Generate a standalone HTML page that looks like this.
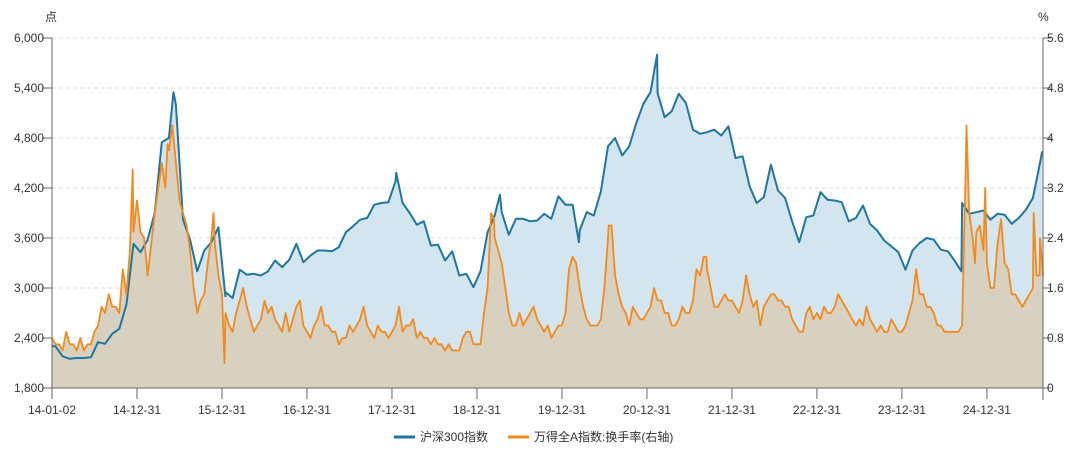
<!DOCTYPE html>
<html><head><meta charset="utf-8"><style>
body{margin:0;background:#fff;font-family:"Liberation Sans","Noto Sans CJK SC",sans-serif;}
svg text{font-family:"Liberation Sans","Noto Sans CJK SC",sans-serif;fill:#333;font-size:12px;}
</style></head><body>
<svg id="chart" width="1080" height="458" viewBox="0 0 1080 458" xmlns="http://www.w3.org/2000/svg"></svg>
<script>
const leftTicks=[1800,2400,3000,3600,4200,4800,5400,6000];
const leftTickLabels=["1,800","2,400","3,000","3,600","4,200","4,800","5,400","6,000"];
const rightTicks=[0,0.8,1.6,2.4,3.2,4,4.8,5.6];
const rightTickLabels=["0","0.8","1.6","2.4","3.2","4","4.8","5.6"];
const xTickDates=[2014.0,2015.0,2016.0,2017.0,2018.0,2019.0,2020.0,2021.0,2022.0,2023.0,2024.0,2025.0];
const xTickLabels=["14-01-02","14-12-31","15-12-31","16-12-31","17-12-31","18-12-31","19-12-31","20-12-31","21-12-31","22-12-31","23-12-31","24-12-31"];
// monthly values Jan 2014 .. Aug 2025 (mid-month)
const csi300=[2300,2180,2150,2160,2160,2170,2350,2330,2450,2510,2800,3530,
3430,3580,3900,4750,4800,5200,3820,3580,3200,3450,3550,3730,
2950,2880,3220,3160,3170,3150,3200,3330,3250,3340,3530,3310,
3390,3450,3450,3440,3490,3670,3740,3820,3840,4000,4020,4030,
4280,4020,3900,3760,3800,3510,3520,3330,3440,3150,3170,3010,
3200,3670,3870,3910,3640,3830,3830,3800,3810,3890,3830,4100,
4000,4000,3690,3910,3870,4160,4700,4800,4590,4700,4980,5210,
5350,5340,5050,5120,5330,5220,4900,4850,4870,4900,4830,4940,
4560,4580,4220,4020,4090,4480,4170,4080,3800,3550,3850,3870,
4150,4060,4050,4030,3800,3840,3990,3770,3690,3570,3500,3430,
3220,3450,3540,3600,3580,3460,3440,3320,4020,3890,3910,3930,
3820,3890,3880,3770,3840,3940,4080,4500];
const csiSpikeDates=[2015.43,2016.04,2018.05,2019.27,2020.2,2021.12,2024.7,2025.65];
const csiSpikeValues=[5350,2900,4380,4120,3550,5800,3200,4640];
const turnover=[0.7,0.6,0.7,0.6,0.6,0.7,1.0,1.2,1.3,1.2,1.5,2.5,
2.5,1.8,2.8,3.6,3.8,3.6,2.8,2.2,1.2,1.5,2.4,1.8,
1.2,0.9,1.4,1.3,0.9,1.1,1.2,1.1,0.9,0.9,1.3,1.0,
0.8,1.1,1.0,0.9,0.7,0.8,0.9,1.1,1.0,0.8,0.9,0.8,
1.0,0.9,1.0,0.8,0.8,0.7,0.7,0.6,0.6,0.6,0.9,0.7,
0.7,1.6,2.4,2.0,1.2,1.0,1.0,1.2,1.1,0.9,0.8,1.0,
1.2,2.1,1.6,1.1,1.0,1.1,2.4,1.8,1.3,1.0,1.2,1.1,
1.3,1.4,1.2,1.0,1.1,1.2,1.4,1.8,1.9,1.3,1.4,1.4,
1.3,1.4,1.5,1.4,1.3,1.5,1.4,1.3,1.1,0.9,1.2,1.1,
1.1,1.2,1.3,1.4,1.2,1.0,1.0,1.1,0.9,0.9,1.1,0.9,
1.0,1.4,1.5,1.3,1.2,1.0,0.9,0.9,1.0,2.8,2.5,2.2,
1.6,2.3,2.0,1.5,1.4,1.4,1.6,2.4];
// start-of-month values
const turnoverStart=[0.8,0.7,0.9,0.7,0.8,0.7,0.9,1.3,1.5,1.3,1.9,2.2,
3.0,2.4,2.3,3.2,3.2,4.2,3.0,2.6,1.6,1.4,2.0,2.3,
1.5,1.0,1.2,1.6,1.1,1.0,1.4,1.3,1.0,1.2,1.1,1.4,
0.9,1.0,1.3,1.0,0.9,0.8,1.0,1.0,1.3,0.9,1.0,0.9,
0.9,1.3,1.0,1.1,0.9,0.8,0.8,0.7,0.7,0.6,0.8,0.9,
0.7,1.2,2.8,2.2,1.6,1.0,1.2,1.1,1.3,1.0,1.0,0.9,
1.0,1.9,2.0,1.3,1.0,1.0,1.6,2.6,1.5,1.2,1.3,1.1,
1.2,1.6,1.4,1.2,1.0,1.3,1.2,1.9,2.1,1.6,1.3,1.5,
1.4,1.2,1.8,1.3,1.0,1.4,1.5,1.4,1.3,1.0,0.9,1.3,
1.2,1.3,1.2,1.5,1.3,1.1,1.1,1.3,1.0,1.0,0.9,1.0,
0.9,1.2,1.9,1.5,1.3,1.0,0.9,0.9,0.9,3.5,2.4,2.6,
2.0,1.6,2.7,1.9,1.5,1.3,1.5,1.8];
const toSpikeDates=[2014.95,2015.36,2015.9,2016.03,2019.2,2020.55,2021.7,2024.76,2024.86,2024.98,2025.55,2025.62,2025.66];
const toSpikeValues=[3.5,3.9,2.8,0.4,2.7,2.6,2.1,4.2,2.0,3.2,2.8,1.8,1.8];

const X0=52,X1=1043,T0=2014.0,T1=2025.66,Y0=388,Y1=38;
const xs=t=>X0+(t-T0)/(T1-T0)*(X1-X0);
const yl=v=>Y0-(v-1800)/(6000-1800)*(Y0-Y1);
const yr=v=>Y0-v/5.6*(Y0-Y1);
const NS="http://www.w3.org/2000/svg";
const svg=document.getElementById('chart');
function mk(tag,attrs,parent){const e=document.createElementNS(NS,tag);for(const k in attrs)e.setAttribute(k,attrs[k]);(parent||svg).appendChild(e);return e;}
function series(vals,startVals,sd,sv){let p=vals.map((v,i)=>[T0+(i+0.5)/12,v]);
if(startVals)startVals.forEach((v,i)=>{if(i>0)p.push([T0+i/12,v]);});
sd.forEach((d,i)=>p.push([d,sv[i]]));p.sort((a,b)=>a[0]-b[0]);p.unshift([T0,startVals?startVals[0]:vals[0]]);p=p.filter(q=>q[0]<=T1);return p;}
leftTicks.forEach((v,i)=>{if(i>0){const g=mk('line',{x1:X0,x2:X1,y1:yl(v),y2:yl(v),stroke:'#ddd','stroke-dasharray':'4,3'});}});
const csiPts=series(csi300,null,csiSpikeDates,csiSpikeValues);
const toPts=series(turnover,turnoverStart,toSpikeDates,toSpikeValues);
const csiD=csiPts.map((p,i)=>(i?'L':'M')+xs(p[0]).toFixed(1)+','+yl(p[1]).toFixed(1)).join('');
const toD=toPts.map((p,i)=>(i?'L':'M')+xs(p[0]).toFixed(1)+','+yr(p[1]).toFixed(1)).join('');
const a1=mk('path',{d:csiD+`L${xs(csiPts[csiPts.length-1][0])},${Y0}L${X0},${Y0}Z`,fill:'#d3e5ee'});

const a2=mk('path',{d:toD+`L${xs(toPts[toPts.length-1][0])},${Y0}L${X0},${Y0}Z`,fill:'#d8d1bf'});

const l1=mk('path',{d:csiD,fill:'none',stroke:'#1f76a0','stroke-width':2,'stroke-linejoin':'round'});

const l2=mk('path',{d:toD,fill:'none',stroke:'#f28a1e','stroke-width':1.8,'stroke-linejoin':'round'});

mk('line',{x1:X0,x2:X0,y1:Y1,y2:Y0,stroke:'#666'});
mk('line',{x1:X1,x2:X1,y1:Y1,y2:Y0+12,stroke:'#666'});
mk('line',{x1:X0,x2:X1,y1:Y0,y2:Y0,stroke:'#666'});
leftTicks.forEach((v,i)=>{mk('line',{x1:X0-10,x2:X0,y1:yl(v),y2:yl(v),stroke:'#666'});
const t=mk('text',{x:X0-8,y:yl(v)+4,'text-anchor':'end'});t.textContent=leftTickLabels[i];
});
rightTicks.forEach((v,i)=>{mk('line',{x1:X1,x2:X1+8,y1:yr(v),y2:yr(v),stroke:'#666'});
const t=mk('text',{x:X1+4,y:yr(v)+4});t.textContent=rightTickLabels[i];
});
xTickDates.forEach((d,i)=>{const x=xs(d);mk('line',{x1:x,x2:x,y1:Y0,y2:Y0+11,stroke:'#666'});
const t=mk('text',{x:x,y:Y0+26,'text-anchor':'middle'});t.textContent=xTickLabels[i];
});
const u1=mk('text',{x:45,y:21});u1.textContent='点';
const u2=mk('text',{x:1038,y:21});u2.textContent='%';
const lg=mk('g',{});
const e1=mk('g',{},lg);
mk('line',{x1:394,x2:415,y1:437,y2:437,stroke:'#1f76a0','stroke-width':3},e1);
const lt1=mk('text',{x:420,y:441},e1);lt1.textContent='沪深300指数';
const e2=mk('g',{},lg);
mk('line',{x1:508,x2:529,y1:437,y2:437,stroke:'#f28a1e','stroke-width':3},e2);
const lt2=mk('text',{x:534,y:441},e2);lt2.textContent='万得全A指数:换手率(右轴)';
</script>
</body></html>
